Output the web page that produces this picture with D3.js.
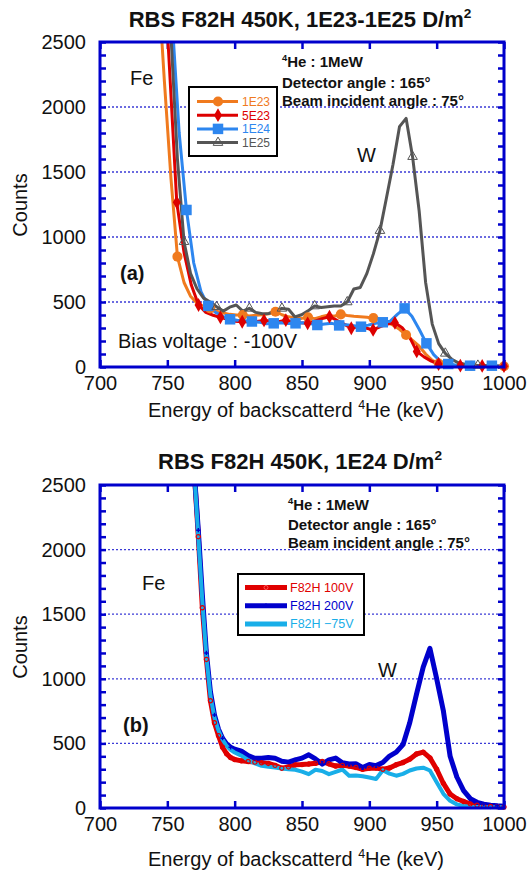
<!DOCTYPE html>
<html>
<head>
<meta charset="utf-8">
<script src="https://cdn.jsdelivr.net/npm/d3@7"></script>
<style>
body { margin: 0; background: #fff; }
text { font-family: "Liberation Sans", Arial, sans-serif; fill: #111; }
</style>
</head>
<body>
<svg width="527" height="875"></svg>
<script>
var svg = d3.select('svg');

var xTicks = [700, 750, 800, 850, 900, 950, 1000];
var yLabels = [0, 500, 1000, 1500, 2000, 2500];
var gridVals = [500, 1000, 1500, 2000];

// ---- panel (a): bias -100V, four fluences ----
// channels used by 1E23 and 1E25
var eA = [743.0, 747.8, 752.7, 757.5, 762.4, 767.2, 772.1, 776.9, 781.8, 786.6, 791.5, 796.3, 801.2, 806.0,
  810.9, 815.7, 820.6, 825.4, 830.3, 835.1, 840.0, 844.8, 849.7, 854.5, 859.4, 864.2, 869.1, 873.9, 878.8,
  883.6, 888.5, 893.3, 898.2, 903.0, 907.9, 912.7, 917.6, 922.4, 927.3, 932.1, 937.0, 941.8, 946.7, 951.5,
  956.4, 961.2, 966.1, 970.9, 975.8, 980.6, 985.5, 990.3, 995.2, 1000.0];
var c1E23 = [3000, 2200, 1450, 849, 650, 545, 490, 465, 451, 430, 415, 405, 400, 400,
  392, 398, 402, 410, 425, 402, 386, 378, 374, 382, 372, 386, 398, 390, 405,
  396, 390, 386, 382, 376, 368, 348, 322, 290, 246, 205, 160, 100, 52, 26,
  15, 11, 10, 10, 10, 8, 7, 6, 6, 6];
var c1E25 = [3600, 3000, 2550, 1600, 964, 720, 600, 530, 500, 464, 430, 460, 477, 430,
  451, 420, 410, 412, 432, 451, 444, 385, 402, 432, 469, 458, 464, 470, 469,
  500, 600, 612, 720, 870, 1049, 1300, 1560, 1849, 1913, 1618, 1200, 650, 330, 180,
  105, 60, 32, 22, 16, 12, 10, 8, 6, 5];
// channels used by 5E23
var eR = [740.8, 746.2, 751.6, 757.0, 762.4, 767.8, 773.2, 778.6, 784.0, 789.4, 794.8, 800.2, 805.6, 811.0,
  816.4, 821.8, 827.2, 832.6, 838.0, 843.4, 848.8, 854.2, 859.6, 865.0, 870.4, 875.8, 881.2, 886.6, 892.0,
  897.4, 902.8, 908.2, 913.6, 919.0, 924.4, 929.8, 935.2, 940.6, 946.0, 951.4, 956.8, 962.2, 967.6, 973.0,
  978.4, 983.8, 989.2, 994.6, 1000.0];
var c5E23 = [4500, 3300, 2300, 1267, 880, 630, 477, 420, 398, 382, 366, 352, 348, 346,
  350, 358, 354, 348, 360, 346, 340, 336, 352, 372, 387, 360, 330, 298, 312,
  300, 285, 310, 330, 340, 302, 232, 120, 78, 45, 23, 15, 12, 10, 8,
  8, 8, 6, 6, 6];
// channels used by 1E24
var eB = [742.6, 748.0, 753.4, 758.8, 764.2, 769.6, 775.0, 780.4, 785.8, 791.2, 796.6, 802.0, 807.4, 812.8,
  818.2, 823.6, 829.0, 834.4, 839.8, 845.2, 850.6, 856.0, 861.4, 866.8, 872.2, 877.6, 883.0, 888.4, 893.8,
  899.2, 904.6, 910.0, 915.4, 920.8, 926.2, 931.6, 937.0, 942.4, 947.8, 953.2, 958.6, 964.0, 969.4, 974.8,
  980.2, 985.6, 991.0, 996.4];
var c1E24 = [5000, 3800, 2700, 1800, 1208, 800, 580, 470, 420, 390, 367, 360, 355, 350,
  345, 332, 336, 340, 334, 336, 340, 334, 323, 330, 336, 320, 326, 318, 310,
  322, 336, 344, 352, 405, 451, 390, 290, 182, 95, 40, 23, 15, 12, 10,
  10, 10, 10, 8];

// ---- panel (b): 1E24, three bias voltages ----
var eV = [765, 770, 773, 776, 779, 782, 785, 788, 791, 794, 797, 800,
  805, 810, 815, 820, 825, 830, 835, 840, 845, 850, 855, 860, 865, 870, 875, 880, 885, 890,
  895, 900, 905, 910, 915, 920, 925, 930, 935, 940, 945, 950, 955, 960, 965, 970, 975, 980,
  985, 990, 995, 1000];
var c100V = [4000, 2600, 2100, 1550, 1150, 830, 660, 560, 470, 420, 390, 375,
  365, 360, 355, 350, 345, 330, 308, 318, 334, 336, 340, 346, 360, 342, 325, 330, 324, 314,
  300, 308, 310, 300, 310, 335, 352, 378, 418, 432, 388, 300, 190, 108, 72, 50, 32, 22,
  15, 12, 10, 8];
var c200V = [4000, 2600, 2150, 1650, 1200, 900, 720, 610, 540, 495, 470, 455,
  440, 405, 385, 385, 390, 385, 362, 355, 372, 386, 412, 380, 340, 372, 386, 350, 340, 342,
  314, 336, 328, 352, 402, 432, 490, 660, 880, 1090, 1235, 1000, 750, 400, 240, 135, 72, 44,
  30, 22, 17, 14];
var cM75V = [4000, 2600, 2100, 1600, 1170, 870, 700, 600, 530, 480, 450, 430,
  405, 372, 345, 326, 320, 314, 305, 300, 296, 282, 262, 296, 286, 262, 280, 298, 250, 252,
  246, 236, 224, 292, 266, 250, 264, 290, 306, 312, 290, 200, 110, 56, 28, 15, 10, 8,
  6, 5, 5, 5];

var x = d3.scaleLinear().domain([700, 1000]).range([100, 504]);
var axisColor = '#0000cc';

// text with optional superscript pieces ({sup: '4'})
function addText(sel, px, py, parts, size, weight, anchor) {
  var t = sel.append('text').attr('x', px).attr('y', py)
    .attr('font-size', size).attr('font-weight', weight || 'normal')
    .attr('text-anchor', anchor || 'start');
  var raised = false;
  parts.forEach(function(p) {
    if (typeof p === 'string') {
      t.append('tspan').attr('dy', raised ? size * 0.42 : null).text(p);
      raised = false;
    } else {
      t.append('tspan').attr('font-size', size * 0.62).attr('dy', -size * 0.42).text(p.sup);
      raised = true;
    }
  });
  return t;
}

function panel(id, top, bottom) {
  var y = d3.scaleLinear().domain([0, 2500]).range([bottom, top]);
  var g = svg.append('g');
  svg.append('clipPath').attr('id', id).append('rect')
    .attr('x', x(700)).attr('y', top).attr('width', x(1000) - x(700)).attr('height', bottom - top);

  g.selectAll('line.grid').data(gridVals).enter().append('line')
    .attr('x1', x(700)).attr('x2', x(1000)).attr('y1', y).attr('y2', y)
    .attr('stroke', '#3b3bd6').attr('stroke-width', 1.3).attr('stroke-dasharray', '2,2');

  var minor = d3.range(0, 2501, 100);
  g.append('g').attr('transform', 'translate(0,' + bottom + ')')
    .call(d3.axisBottom(x).tickValues(xTicks).tickSize(-7).tickPadding(9).tickFormat(d3.format('d')));
  g.append('g').attr('transform', 'translate(0,' + top + ')')
    .call(d3.axisTop(x).tickValues(xTicks).tickSize(-7).tickFormat(''));
  g.append('g').attr('transform', 'translate(' + x(700) + ',0)')
    .call(d3.axisLeft(y).tickValues(minor).tickSize(-6).tickPadding(14)
      .tickFormat(function(d) { return yLabels.indexOf(d) >= 0 ? d : ''; }));
  g.append('g').attr('transform', 'translate(' + x(1000) + ',0)')
    .call(d3.axisRight(y).tickValues(minor).tickSize(-6).tickFormat(''));
  g.selectAll('.domain').remove();
  g.selectAll('.tick line').attr('stroke', axisColor).attr('stroke-width', 2.5);
  g.selectAll('.tick text').attr('font-size', 20).attr('fill', '#111')
    .attr('font-family', '"Liberation Sans", Arial, sans-serif');

  var data = svg.append('g').attr('clip-path', 'url(#' + id + ')');
  var marks = svg.append('g');
  var frame = svg.append('rect').attr('x', x(700)).attr('y', top)
    .attr('width', x(1000) - x(700)).attr('height', bottom - top)
    .attr('fill', 'none').attr('stroke', axisColor).attr('stroke-width', 3);
  return { y: y, data: data, marks: marks, frame: frame };
}

function series(p, es, cs, color, width) {
  var pts = d3.zip(es, cs);
  p.data.append('path').datum(pts)
    .attr('fill', 'none').attr('stroke', color).attr('stroke-width', width)
    .attr('stroke-linejoin', 'round')
    .attr('d', d3.line().x(function(d) { return x(d[0]); }).y(function(d) { return p.y(d[1]); }));
  return pts;
}

function markers(p, pts, every, offset, sym, size, fill, stroke, sw) {
  var sel = pts.filter(function(d, i) { return i % every === offset && d[0] >= 700 && d[1] <= 2500; });
  p.marks.selectAll(null).data(sel).enter().append('path')
    .attr('transform', function(d) { return 'translate(' + x(d[0]) + ',' + p.y(d[1]) + ')'; })
    .attr('d', d3.symbol().type(sym).size(size))
    .attr('fill', fill).attr('stroke', stroke).attr('stroke-width', sw || 0);
}

// ===== panel (a) =====
var pa = panel('clipA', 42, 367);
var colA = { o: '#f07a1e', r: '#dd0000', b: '#2d86ef', k: '#555555' };
var pO = series(pa, eA, c1E23, colA.o, 3);
var pR = series(pa, eR, c5E23, colA.r, 3);
var pB = series(pa, eB, c1E24, colA.b, 3);
var pK = series(pa, eA, c1E25, colA.k, 3);
markers(pa, pO, 5, 3, d3.symbolCircle, 80, colA.o, 'none');
markers(pa, pR, 3, 0, d3.symbolDiamond, 55, colA.r, 'none');
markers(pa, pB, 3, 1, d3.symbolSquare, 110, colA.b, 'none');
markers(pa, pK, 5, 4, d3.symbolTriangle, 40, 'none', colA.k, 1);

addText(svg, 300, 27, ['RBS F82H 450K, 1E23-1E25 D/m', { sup: '2' }], 22, 'bold', 'middle');
addText(svg, 282, 67, [{ sup: '4' }, 'He : 1MeW'], 15, 'bold');
addText(svg, 282, 88, ['Detector angle : 165\u00b0'], 15, 'bold');
addText(svg, 282, 106, ['Beam incident angle : 75\u00b0'], 15, 'bold');
addText(svg, 130, 85, ['Fe'], 20);
addText(svg, 357, 162, ['W'], 20);
addText(svg, 120, 280, ['(a)'], 20, 'bold');
addText(svg, 118, 348, ['Bias voltage : -100V'], 20);
addText(svg, 296, 417, ['Energy of backscatterd ', { sup: '4' }, 'He (keV)'], 20, 'normal', 'middle');
svg.append('text').attr('transform', 'translate(27,205) rotate(-90)').attr('text-anchor', 'middle')
  .attr('font-size', 20).text('Counts');

// legend (a)
var legA = [
  { name: '1E23', c: colA.o, sym: d3.symbolCircle, size: 80, fill: colA.o, stroke: 'none' },
  { name: '5E23', c: colA.r, sym: d3.symbolDiamond, size: 55, fill: colA.r, stroke: 'none' },
  { name: '1E24', c: colA.b, sym: d3.symbolSquare, size: 110, fill: colA.b, stroke: 'none' },
  { name: '1E25', c: colA.k, sym: d3.symbolTriangle, size: 40, fill: 'none', stroke: colA.k }
];
svg.append('rect').attr('x', 189).attr('y', 87).attr('width', 88).attr('height', 69)
  .attr('fill', '#fff').attr('stroke', '#000').attr('stroke-width', 2);
legA.forEach(function(d, i) {
  var ly = 101.5 + i * 13.7;
  svg.append('line').attr('x1', 197).attr('x2', 238).attr('y1', ly).attr('y2', ly)
    .attr('stroke', d.c).attr('stroke-width', 3);
  svg.append('path').attr('transform', 'translate(218,' + ly + ')')
    .attr('d', d3.symbol().type(d.sym).size(d.size)).attr('fill', d.fill)
    .attr('stroke', d.stroke).attr('stroke-width', 1);
  svg.append('text').attr('x', 242).attr('y', ly + 4.3).attr('font-size', 12)
    .style('fill', d.c).text(d.name);
});

// ===== panel (b) =====
var pb = panel('clipB', 485, 808);
var colB = { r: '#e00000', b: '#0000cc', c: '#19aee8' };
var qR = series(pb, eV, c100V, colB.r, 5);
var qB = series(pb, eV, c200V, colB.b, 5);
var qC = series(pb, eV, cM75V, colB.c, 4);
markers(pb, qR, 1, 0, d3.symbolCircle, 14, 'none', colB.r, 1.2);
markers(pb, qB, 2, 0, d3.symbolCross, 10, colB.b, 'none');
pb.frame.raise();

addText(svg, 300, 469, ['RBS F82H 450K, 1E24 D/m', { sup: '2' }], 22, 'bold', 'middle');
addText(svg, 288, 510, [{ sup: '4' }, 'He : 1MeW'], 15, 'bold');
addText(svg, 288, 530, ['Detector angle : 165\u00b0'], 15, 'bold');
addText(svg, 288, 548, ['Beam incident angle : 75\u00b0'], 15, 'bold');
addText(svg, 142, 590, ['Fe'], 20);
addText(svg, 378, 677, ['W'], 20);
addText(svg, 123, 732, ['(b)'], 20, 'bold');
addText(svg, 296, 866, ['Energy of backscatterd ', { sup: '4' }, 'He (keV)'], 20, 'normal', 'middle');
svg.append('text').attr('transform', 'translate(27,647) rotate(-90)').attr('text-anchor', 'middle')
  .attr('font-size', 20).text('Counts');

var legB = [
  { name: 'F82H 100V', c: colB.r, sym: d3.symbolCircle, fill: 'none' },
  { name: 'F82H 200V', c: colB.b, sym: d3.symbolCross, fill: colB.b },
  { name: 'F82H \u221275V', c: colB.c, sym: null }
];
svg.append('rect').attr('x', 238).attr('y', 574).attr('width', 126).attr('height', 61)
  .attr('fill', '#fff').attr('stroke', '#000').attr('stroke-width', 2);
legB.forEach(function(d, i) {
  var ly = 587.5 + i * 18.3;
  svg.append('line').attr('x1', 245).attr('x2', 287).attr('y1', ly).attr('y2', ly)
    .attr('stroke', d.c).attr('stroke-width', 5);
  if (d.sym) svg.append('path').attr('transform', 'translate(266,' + ly + ')')
    .attr('d', d3.symbol().type(d.sym).size(12)).attr('fill', d.fill)
    .attr('stroke', d.fill === 'none' ? '#ff5a5a' : 'none').attr('stroke-width', 1);
  svg.append('text').attr('x', 290).attr('y', ly + 4.3).attr('font-size', 12.5)
    .style('fill', d.c).text(d.name);
});
</script>
</body>
</html>
